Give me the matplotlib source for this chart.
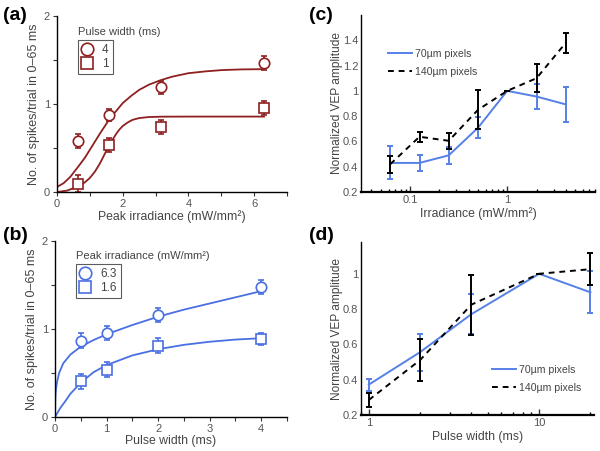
import numpy as np
import matplotlib
matplotlib.use("Agg")
import matplotlib.pyplot as plt
from matplotlib.ticker import FixedLocator, NullFormatter, FormatStrFormatter
from matplotlib.lines import Line2D

plt.rcParams['font.family'] = ['Liberation Sans', 'DejaVu Sans']

RED = '#8e2020'
BLUE_B = '#4a6fe3'
BLUE_C = '#5580e6'
TXT = '#444444'
TICK = '#555555'

# ---- panel (a): spikes vs irradiance ----
irr_a = [0.63, 1.58, 3.15, 6.3]
a_4ms = [0.58, 0.875, 1.19, 1.47]
a_4ms_err = [0.08, 0.068, 0.074, 0.08]
a_1ms = [0.094, 0.532, 0.743, 0.951]
a_1ms_err = [0.094, 0.083, 0.08, 0.08]
# fitted curves
fit_a4_x = [0, 0.2, 0.4, 0.65, 0.85, 1.0, 1.15, 1.3, 1.45, 1.6, 1.8, 2.0, 2.25,
            2.5, 2.8, 3.15, 3.5, 4.0, 4.5, 5.0, 5.6, 6.3]
fit_a4_y = [0.057, 0.1, 0.17, 0.29, 0.39, 0.48, 0.57, 0.66, 0.745, 0.83, 0.92, 1.01,
            1.09, 1.16, 1.22, 1.27, 1.31, 1.35, 1.37, 1.385, 1.393, 1.396]
fit_a1_x = [0, 0.3, 0.65, 0.85, 1.0, 1.15, 1.3, 1.45, 1.6, 1.7, 1.8, 1.9, 2.0,
            2.15, 2.3, 2.5, 2.8, 3.2, 4.0, 6.3]
fit_a1_y = [0.0, 0.015, 0.064, 0.11, 0.16, 0.23, 0.32, 0.43, 0.54, 0.6, 0.66, 0.71,
            0.75, 0.79, 0.82, 0.84, 0.852, 0.856, 0.857, 0.857]

# ---- panel (b): spikes vs pulse width ----
pw_b = [0.5, 1, 2, 4]
b_63 = [0.864, 0.958, 1.158, 1.479]
b_63_err = [0.085, 0.08, 0.075, 0.083]
b_16 = [0.404, 0.536, 0.808, 0.883]
b_16_err = [0.087, 0.085, 0.085, 0.068]
fit_b63_x = [0, 0.005, 0.01, 0.02, 0.04, 0.08, 0.16, 0.3, 0.5, 0.75, 1.0, 1.5, 2.0,
             2.5, 3.0, 3.5, 4.0]
fit_b63_y = [0, 0.18, 0.25, 0.32, 0.4, 0.5, 0.61, 0.71, 0.8, 0.875, 0.94, 1.045, 1.14,
             1.22, 1.29, 1.36, 1.43]
fit_b16_x = [0, 0.1, 0.2, 0.3, 0.5, 0.75, 1.0, 1.5, 2.0, 2.5, 3.0, 3.5, 4.0]
fit_b16_y = [0, 0.1, 0.18, 0.265, 0.39, 0.51, 0.59, 0.7, 0.77, 0.82, 0.855, 0.88, 0.895]

# ---- panel (c): VEP vs irradiance ----
irr_c = [0.0625, 0.125, 0.25, 0.5, 1, 2, 4]
c_70 = [0.43, 0.43, 0.49, 0.708, 1.0, 0.955, 0.893]
c_70_err = [0.13, 0.063, 0.065, 0.083, 0, 0.1, 0.138]
c_140 = [0.42, 0.637, 0.605, 0.85, 1.0, 1.10, 1.38]
c_140_err = [0.068, 0.04, 0.062, 0.155, 0, 0.112, 0.081]

# ---- panel (d): VEP vs pulse width ----
pw_d = [1, 2, 4, 10, 20]
d_70 = [0.372, 0.556, 0.771, 1.0, 0.895]
d_70_err = [0.034, 0.105, 0.112, 0, 0.12]
d_140 = [0.285, 0.511, 0.825, 1.0, 1.026]
d_140_err = [0.042, 0.118, 0.17, 0, 0.09]

W, H = 600, 451
fig = plt.figure(figsize=(6.0, 4.51), dpi=100)


def rect(l, r, t, b):
    return [l / W, 1 - b / H, (r - l) / W, (b - t) / H]


def style_spines(ax):
    for s in ['top', 'right']:
        ax.spines[s].set_visible(False)
    ax.spines['left'].set_linewidth(1.0)
    ax.spines['bottom'].set_linewidth(1.0)
    ax.tick_params(colors='#333333', labelcolor=TICK, labelsize=8, pad=2)


def left_panel(ax, color, xs, s1, e1, s2, e2, fx1, fy1, fx2, fy2):
    ax.plot(fx1, fy1, color=color, lw=1.3)
    ax.plot(fx2, fy2, color=color, lw=1.3)
    ax.errorbar(xs, s1, yerr=e1, fmt='o', mfc='white', mec=color, ecolor=color,
                ms=7.5, mew=1.2, elinewidth=1.2, capsize=2, capthick=1.2)
    ax.errorbar(xs, s2, yerr=e2, fmt='s', mfc='white', mec=color, ecolor=color,
                ms=6.5, mew=1.2, elinewidth=1.2, capsize=2, capthick=1.2)
    ax.set_ylim(0, 2)
    ax.yaxis.set_major_locator(FixedLocator([0, 0.5, 1, 1.5, 2]))
    ax.set_yticklabels(['0', '', '1', '', '2'])
    ax.set_ylabel('No. of spikes/trial in 0\u201365 ms', fontsize=9, color=TXT, labelpad=3)
    style_spines(ax)
    ax.tick_params(direction='out', length=3)


def box_legend(ax, color, labels, anchor):
    h1 = Line2D([], [], ls='none', marker='o', mfc='white', mec=color, ms=9, mew=1.2)
    h2 = Line2D([], [], ls='none', marker='s', mfc='white', mec=color, ms=8, mew=1.2)
    leg = ax.legend([h1, h2], labels, loc='upper left', bbox_to_anchor=anchor,
                    fontsize=8.5, frameon=True, fancybox=False, handlelength=0.8,
                    handletextpad=0.9, borderpad=0.35, labelspacing=0.15, borderaxespad=0)
    leg.get_frame().set_edgecolor('#333333')
    leg.get_frame().set_linewidth(0.8)
    for t in leg.get_texts():
        t.set_color(TXT)


# (a)
ax_a = fig.add_axes(rect(57, 287, 16, 192))
left_panel(ax_a, RED, irr_a, a_4ms, a_4ms_err, a_1ms, a_1ms_err,
           fit_a4_x, fit_a4_y, fit_a1_x, fit_a1_y)
ax_a.set_xlim(0, 7)
ax_a.xaxis.set_major_locator(FixedLocator(range(8)))
ax_a.set_xticklabels(['0', '', '2', '', '4', '', '6', ''])
ax_a.set_xlabel('Peak irradiance (mW/mm²)', fontsize=8.8, color=TXT, labelpad=1)
box_legend(ax_a, RED, ['4', '1'], (0.09, 0.865))
ax_a.text(0.09, 0.89, 'Pulse width (ms)', transform=ax_a.transAxes, fontsize=8, color=TXT)

# (b)
ax_b = fig.add_axes(rect(55, 287, 241, 417))
left_panel(ax_b, BLUE_B, pw_b, b_63, b_63_err, b_16, b_16_err,
           fit_b63_x, fit_b63_y, fit_b16_x, fit_b16_y)
ax_b.set_xlim(0, 4.5)
ax_b.xaxis.set_major_locator(FixedLocator(np.arange(0, 4.6, 0.5)))
ax_b.set_xticklabels(['0', '', '1', '', '2', '', '3', '', '4', ''])
ax_b.set_xlabel('Pulse width (ms)', fontsize=8.8, color=TXT, labelpad=1)
box_legend(ax_b, BLUE_B, ['6.3', '1.6'], (0.09, 0.87))
ax_b.text(0.09, 0.895, 'Peak irradiance (mW/mm²)', transform=ax_b.transAxes,
          fontsize=8, color=TXT)


def right_panel(ax, xs, s70, e70, s140, e140, anchor):
    ax.errorbar(xs, s70, yerr=e70, color=BLUE_C, lw=1.4, elinewidth=1.4,
                capsize=2.5, capthick=1.4, zorder=2)
    ax.errorbar(xs, s140, yerr=e140, color='black', ls=(0, (3, 2.5)), lw=1.4,
                elinewidth=1.4, capsize=2.5, capthick=1.4, zorder=3)
    ax.set_xscale('log')
    ax.set_ylabel('Normalized VEP amplitude', fontsize=8.6, color=TXT, labelpad=0)
    ax.yaxis.set_major_formatter(FormatStrFormatter('%g'))
    style_spines(ax)
    ax.tick_params(axis='x', which='major', direction='in', length=4, width=1.0)
    ax.tick_params(axis='x', which='minor', direction='in', length=2.5, width=1.0)
    ax.tick_params(axis='y', direction='in', length=0)
    ax.spines['bottom'].set_linewidth(1.6)
    ax.xaxis.set_minor_formatter(NullFormatter())
    h1 = Line2D([], [], color=BLUE_C, lw=1.4)
    h2 = Line2D([], [], color='black', lw=1.4, ls=(0, (3, 2.5)))
    leg = ax.legend([h1, h2], ['70\u00b5m pixels', '140\u00b5m pixels'], loc='upper left',
                    bbox_to_anchor=anchor, frameon=False, fontsize=7.6, handlelength=2.3,
                    handletextpad=0.3, labelspacing=0.75, borderpad=0, borderaxespad=0)
    for t in leg.get_texts():
        t.set_color(TXT)


# (c)
ax_c = fig.add_axes(rect(361, 595, 15, 192))
right_panel(ax_c, irr_c, c_70, c_70_err, c_140, c_140_err, (0.115, 0.81))
ax_c.set_xlim(1 / 32, 8)
ax_c.set_ylim(0.2, 1.6)
ax_c.set_yticks([0.2, 0.4, 0.6, 0.8, 1.0, 1.2, 1.4])
ax_c.set_xticks([0.1, 1])
ax_c.set_xticklabels(['0.1', '1'])
ax_c.set_xlabel('Irradiance (mW/mm²)', fontsize=8.8, color=TXT, labelpad=2)

# (d)
ax_d = fig.add_axes(rect(361, 594, 242, 415))
right_panel(ax_d, pw_d, d_70, d_70_err, d_140, d_140_err, (0.562, 0.29))
ax_d.set_xlim(0.9, 21)
ax_d.set_ylim(0.2, 1.18)
ax_d.set_yticks([0.2, 0.4, 0.6, 0.8, 1.0])
ax_d.set_xticks([1, 10])
ax_d.set_xticklabels(['1', '10'])
ax_d.set_xlabel('Pulse width (ms)', fontsize=8.8, color=TXT, labelpad=2)

# panel letters
for lab, x, y in [('(a)', 3, 15), ('(b)', 3, 235), ('(c)', 309, 16), ('(d)', 309, 235)]:
    fig.text(x / W, 1 - y / H, lab, fontsize=14, fontweight='bold', va='center', ha='left')

fig.savefig('out.png', dpi=100)
